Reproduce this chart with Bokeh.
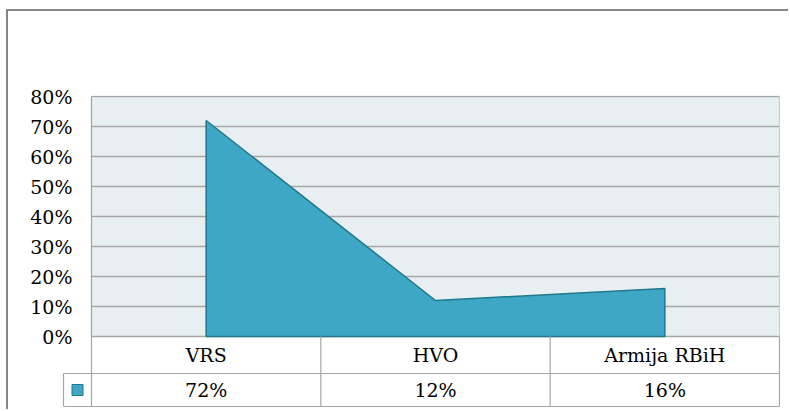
from bokeh.plotting import figure
from bokeh.models import Range1d, FixedTicker, NumeralTickFormatter, ColumnDataSource
from bokeh.embed import file_html
from bokeh.resources import INLINE
from bokeh.core.properties import value

# ---- data ----
categories = ["VRS", "HVO", "Armija RBiH"]
shares = [0.72, 0.12, 0.16]
share_labels = ["72%", "12%", "16%"]
y_ticks = [0.0, 0.1, 0.2, 0.3, 0.4, 0.5, 0.6, 0.7, 0.8]

# ---- style ----
FONT = "DejaVu Serif"
FSIZE = "19px"
FILL = "#3EA7C5"
EDGE = "#22788B"
GRID = "#A6A6A6"
BG = "#E8EFF3"
CELL = "#A6A6A6"

n = len(categories)
xc = [i + 0.5 for i in range(n)]
y_max = y_ticks[-1]

# layout (pixel sizes converted to data units)
PX_X = 688.0 / n        # px per category
PX_Y = 300.0            # px per 100 %
key_w = 28.0 / PX_X     # legend-key column of the data table
row1 = -37.0 / PX_Y     # bottom of the category row
row2 = -70.0 / PX_Y     # bottom of the value row

p = figure(width=782, height=400,
           x_range=Range1d(-29.0 / PX_X, n + 1.0 / PX_X),
           y_range=Range1d(-71.0 / PX_Y, y_max + 1.0 / PX_Y),
           output_backend="svg", toolbar_location=None, x_axis_location=None,
           min_border_left=54, min_border_right=10, min_border_top=84, min_border_bottom=4,
           background_fill_color="white", border_fill_color="white",
           outline_line_color=None,
           styles={"margin-left": "6px", "margin-top": "9px",
                   "border-left": "2px solid #868686", "border-top": "2px solid #868686"})
p.grid.visible = False

ax = p.yaxis[0]
ax.ticker = FixedTicker(ticks=y_ticks)
ax.formatter = NumeralTickFormatter(format="0%")
ax.axis_line_color = None
ax.major_tick_line_color = None
ax.minor_tick_line_color = None
ax.major_tick_out = 0
ax.major_tick_in = 0
ax.major_label_standoff = -10
ax.major_label_text_font = FONT
ax.major_label_text_font_size = FSIZE
ax.major_label_text_color = "black"

# plot-area background and gridlines
p.quad(left=[0], right=[n], bottom=[0], top=[y_max], fill_color=BG, line_color=None)
nt = len(y_ticks)
p.segment(x0=[0] * nt, y0=y_ticks, x1=[n] * nt, y1=y_ticks, line_color=GRID, line_width=1.4)

# area series
px = [xc[0]] + xc + [xc[-1]]
py = [0] + shares + [0]
p.patch(px, py, fill_color=FILL, line_color=EDGE, line_width=1.5)

# plot-area side borders
p.segment(x0=[0], y0=[0], x1=[0], y1=[y_max], line_color=CELL, line_width=1.3)
p.segment(x0=[n], y0=[0], x1=[n], y1=[y_max], line_color="#C9D0D4", line_width=1.3)

# ---- data table ----
vx = list(range(n + 1))
p.segment(x0=vx, y0=[0] * len(vx), x1=vx, y1=[row2] * len(vx), line_color=CELL, line_width=1.2)
p.segment(x0=[-key_w], y0=[row1], x1=[-key_w], y1=[row2], line_color=CELL, line_width=1.2)
p.segment(x0=[-key_w, -key_w], y0=[row1, row2], x1=[n, n], y1=[row1, row2],
          line_color=CELL, line_width=1.2)

src = ColumnDataSource(dict(x=xc, cat=categories, lab=share_labels,
                            y1=[row1 / 2] * n, y2=[(row1 + row2) / 2] * n))
p.text(x="x", y="y1", text="cat", source=src, text_align="center", text_baseline="middle",
       text_font=value(FONT), text_font_size=FSIZE, text_color="black")
p.text(x="x", y="y2", text="lab", source=src, text_align="center", text_baseline="middle",
       text_font=value(FONT), text_font_size=FSIZE, text_color="black")
p.rect(x=[-key_w / 2], y=[(row1 + row2) / 2], width=11, height=11, width_units="screen",
       height_units="screen", fill_color=FILL, line_color=EDGE, line_width=1)

open("out.html", "w").write(file_html(p, INLINE))
